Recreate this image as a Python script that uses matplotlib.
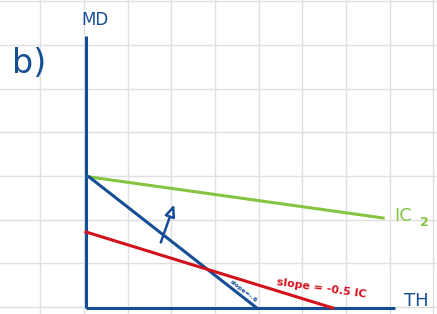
import matplotlib
matplotlib.use("Agg")
import matplotlib.pyplot as plt

# Data (grid units, origin at axis intersection)
green_x = [0.07, 6.8]
green_y = [3.0, 2.06]
blue_x = [0.07, 3.91]
blue_y = [3.0, 0.0]
red_x = [0.0, 5.65]
red_y = [1.74, 0.0]
arrow_start = (1.69, 1.44)
arrow_end = (2.04, 2.43)
axis_x_end = 7.07
axis_y_end = 6.22

BLUE = "#164e96"
GREEN = "#84c441"
RED = "#d4121b"

fig = plt.figure(figsize=(4.37, 3.14), dpi=100)
ax = fig.add_axes([0, 0, 1, 1])
ax.set_xlim(-1.968, 8.032)
ax.set_ylim(-0.137, 7.048)
ax.axis("off")

# background grid
for k in range(11):
    ax.axvline(-1.05 + k, color="#e0e0e0", lw=1.0, zorder=0)
for k in range(8):
    ax.axhline(0.02 + k, color="#e0e0e0", lw=1.0, zorder=0)

# axes
ax.plot([0, 0], [0, axis_y_end], color=BLUE, lw=2.2, solid_capstyle="butt")
ax.plot([0, axis_x_end], [0, 0], color=BLUE, lw=2.2, solid_capstyle="butt")

ax.plot(green_x, green_y, color=GREEN, lw=2.2)
ax.plot(blue_x, blue_y, color=BLUE, lw=2.2)
ax.plot(red_x, red_y, color=RED, lw=2.2)

ax.annotate("", xy=arrow_end, xytext=arrow_start,
            arrowprops=dict(arrowstyle="-|>,head_length=0.7,head_width=0.3",
                            color=BLUE, lw=1.8, fc="white"))

ax.text(-1.3, 5.6, "b)", color=BLUE, fontsize=24, family="DejaVu Sans",
        ha="center", va="center")
ax.text(0.2, 6.6, "MD", color=BLUE, fontsize=12, ha="center", va="center")
ax.text(7.55, 0.15, "TH", color=BLUE, fontsize=13, ha="center", va="center")
ax.text(7.05, 2.11, "IC", color=GREEN, fontsize=13, ha="left", va="center")
ax.text(7.65, 1.95, "2", color=GREEN, fontsize=9, ha="left", va="center", fontweight="bold")
ax.text(5.4, 0.46, "slope = -0.5 IC", color=RED, fontsize=8, rotation=-8,
        ha="center", va="center", fontweight="bold")
ax.text(3.59, 0.39, "slope=-.6", color=BLUE, fontsize=4.5, rotation=-38,
        ha="center", va="center", fontweight="bold")

fig.savefig("out.png", dpi=100)
